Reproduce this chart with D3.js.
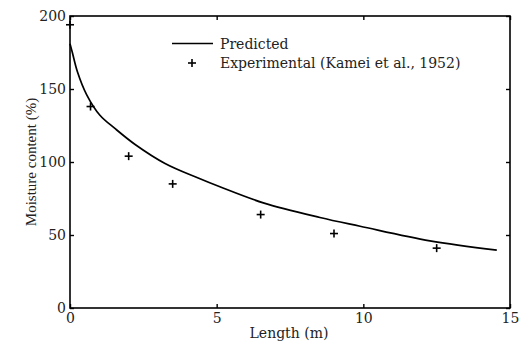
<!DOCTYPE html>
<html>
<head>
<meta charset="utf-8">
<script src="https://cdn.jsdelivr.net/npm/d3@7"></script>
<style>
  body { margin: 0; background: #fff; }
  text { font-family: "DejaVu Serif", serif; fill: #222; }
</style>
</head>
<body>
<div id="chart"></div>
<script>
// predicted curve
var predX = [0, 0.08, 0.25, 0.57, 1.02, 1.53, 2.22, 3.24, 4.37, 5.11, 6.59, 8.52, 9.89, 12.27, 14.55];
var predY = [181, 175, 162, 146, 132, 123, 112, 99, 89, 83, 72, 62, 56, 46, 39.7];

// experimental points (Kamei et al., 1952)
var expX = [0, 0.7, 2, 3.5, 6.5, 9, 12.5];
var expY = [194, 138, 104, 85, 64, 51, 41];

var xTicks = [0, 5, 10, 15];
var yTicks = [0, 50, 100, 150, 200];

var W = 526, H = 341;
var pLeft = 70, pRight = 510, pTop = 16, pBottom = 308;

var svg = d3.select("#chart").append("svg")
    .attr("width", W)
    .attr("height", H);

var x = d3.scaleLinear().domain([0, 15]).range([pLeft, pRight]);
var y = d3.scaleLinear().domain([0, 200]).range([pBottom, pTop]);

// frame
svg.append("rect")
    .attr("x", pLeft).attr("y", pTop)
    .attr("width", pRight - pLeft).attr("height", pBottom - pTop)
    .attr("fill", "none").attr("stroke", "#000").attr("stroke-width", 1.6);

// axes, ticks pointing inward
svg.append("g")
    .attr("transform", "translate(0," + pBottom + ")")
    .call(d3.axisBottom(x).tickValues(xTicks).tickSizeInner(-4).tickSizeOuter(0).tickPadding(5));
svg.append("g")
    .attr("transform", "translate(0," + pTop + ")")
    .call(d3.axisTop(x).tickValues(xTicks).tickSizeInner(-4).tickSizeOuter(0).tickFormat(""));
svg.append("g")
    .attr("transform", "translate(" + pLeft + ",0)")
    .call(d3.axisLeft(y).tickValues(yTicks).tickSizeInner(-4).tickSizeOuter(0).tickPadding(4));
svg.append("g")
    .attr("transform", "translate(" + pRight + ",0)")
    .call(d3.axisRight(y).tickValues(yTicks).tickSizeInner(-4).tickSizeOuter(0).tickFormat(""));

svg.selectAll(".domain").remove();
svg.selectAll(".tick line").attr("stroke", "#000").attr("stroke-width", 1.4);
svg.selectAll(".tick text")
    .style("font-family", "DejaVu Serif")
    .style("font-size", "14px")
    .attr("fill", "#333");

// predicted line
var pts = predX.map(function(d, i) { return [d, predY[i]]; });
var line = d3.line()
    .x(function(d) { return x(d[0]); })
    .y(function(d) { return y(d[1]); })
    .curve(d3.curveCatmullRom.alpha(0.5));

svg.append("path")
    .datum(pts)
    .attr("d", line)
    .attr("fill", "none")
    .attr("stroke", "#000")
    .attr("stroke-width", 1.7);

// experimental markers as plus signs
var plus = function(g) {
    g.append("line").attr("x1", -4).attr("x2", 4).attr("y1", 0).attr("y2", 0);
    g.append("line").attr("x1", 0).attr("x2", 0).attr("y1", -4).attr("y2", 4);
};
svg.selectAll("g.pt")
    .data(expX)
    .enter()
    .append("g")
    .attr("class", "pt")
    .attr("transform", function(d, i) { return "translate(" + x(d) + "," + y(expY[i]) + ")"; })
    .attr("stroke", "#000")
    .attr("stroke-width", 1.6)
    .each(function() { plus(d3.select(this)); });

// legend
svg.append("line")
    .attr("x1", 172).attr("x2", 213)
    .attr("y1", 43.5).attr("y2", 43.5)
    .attr("stroke", "#000").attr("stroke-width", 1.7);
svg.append("text")
    .attr("x", 220).attr("y", 49)
    .style("font-size", "14px")
    .text("Predicted");
var lg = svg.append("g")
    .attr("transform", "translate(192,63)")
    .attr("stroke", "#000").attr("stroke-width", 1.6);
plus(lg);
svg.append("text")
    .attr("x", 220).attr("y", 68)
    .style("font-size", "14px")
    .text("Experimental (Kamei et al., 1952)");

// axis titles
svg.append("text")
    .attr("x", 289).attr("y", 338)
    .attr("text-anchor", "middle")
    .style("font-size", "14px")
    .text("Length (m)");
svg.append("text")
    .attr("transform", "translate(36,162) rotate(-90)")
    .attr("text-anchor", "middle")
    .style("font-family", "Liberation Serif")
    .style("font-size", "15px")
    .text("Moisture content (%)");
</script>
</body>
</html>
